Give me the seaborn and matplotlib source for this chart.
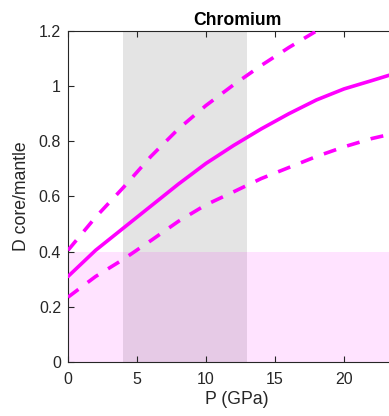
import matplotlib
matplotlib.use("Agg")
import matplotlib.pyplot as plt
import seaborn as sns
import pandas as pd

# Data
P = [0, 2, 4, 6, 8, 10, 12, 14, 16, 18, 20, 22, 23.3, 24.5]
D_mid = [0.31, 0.405, 0.485, 0.565, 0.645, 0.72, 0.785, 0.845, 0.90, 0.95, 0.99, 1.02, 1.04, 1.055]
D_high = [0.405, 0.525, 0.632, 0.745, 0.845, 0.93, 1.005, 1.075, 1.14, 1.20, 1.25, 1.29, 1.32, 1.34]
D_low = [0.235, 0.31, 0.372, 0.44, 0.51, 0.57, 0.617, 0.665, 0.705, 0.745, 0.78, 0.81, 0.825, 0.84]
gray_band = (4, 13)
pink_band = (0, 0.4)
title = "Chromium"
xlabel = "P (GPa)"
ylabel = "D core/mantle"
xticks = [0, 5, 10, 15, 20]
yticks = [0, 0.2, 0.4, 0.6, 0.8, 1.0, 1.2]
ytick_labels = ["0", "0.2", "0.4", "0.6", "0.8", "1", "1.2"]
x_max = 24.5

sns.set_style("ticks")
plt.rcParams['font.family'] = ['Liberation Sans', 'DejaVu Sans']

df = pd.DataFrame({"P": P, "mid": D_mid, "high": D_high, "low": D_low})

fig = plt.figure(figsize=(3.89, 4.16), dpi=100)
# axes extends past the right edge of the figure (as in the cropped reference)
ax = fig.add_axes([68/389, 1-362/416, (x_max*13.8)/389, (362-31)/416])

ax.axvspan(*gray_band, color="black", alpha=0.105, lw=0, zorder=0)
ax.axhspan(*pink_band, color="#ff00ff", alpha=0.11, lw=0, zorder=0)

mag = "#ff00ff"
dash = (0, (3.6, 3.2))
sns.lineplot(data=df, x="P", y="mid", ax=ax, color=mag, lw=2.6, zorder=3)
sns.lineplot(data=df, x="P", y="high", ax=ax, color=mag, lw=2.6, zorder=3,
             linestyle=dash)
sns.lineplot(data=df, x="P", y="low", ax=ax, color=mag, lw=2.6, zorder=3,
             linestyle=dash)

ax.set_xlim(0, x_max)
ax.set_ylim(0, 1.2)
ax.set_xticks(xticks)
ax.set_yticks(yticks)
ax.set_yticklabels(ytick_labels)
ax.tick_params(direction="in", length=4, width=0.8, colors="#262626",
               labelsize=11.5, top=True, right=False, labelcolor="#262626")
ax.tick_params(axis="x", pad=7)
ax.tick_params(axis="y", pad=5)
for s in ["left", "bottom", "top"]:
    ax.spines[s].set_color("#262626")
    ax.spines[s].set_linewidth(0.8)
ax.spines["right"].set_visible(False)

ax.set_xlabel(xlabel, fontsize=12.7, color="#262626", labelpad=3)
ax.set_ylabel(ylabel, fontsize=12.7, color="#262626", labelpad=6)
ax.set_title(title, fontsize=12.7, fontweight="bold", color="black", pad=4)

fig.savefig("out.png", dpi=100)
